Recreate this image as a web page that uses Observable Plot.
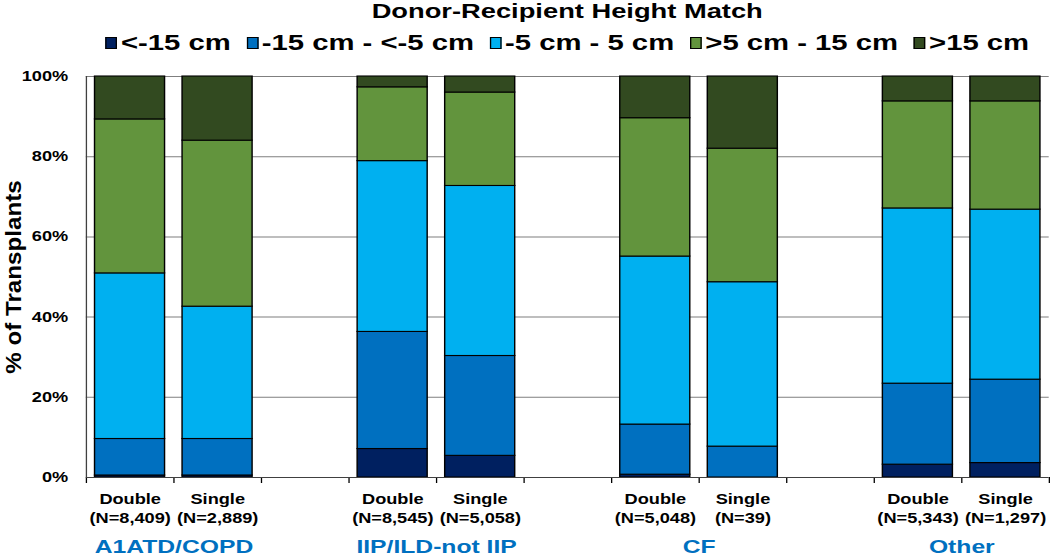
<!DOCTYPE html>
<html>
<head>
<meta charset="utf-8">
<script src="https://cdn.jsdelivr.net/npm/d3@7"></script>
<script src="https://cdn.jsdelivr.net/npm/@observablehq/plot@0.6"></script>
<style>
  html, body { margin: 0; padding: 0; background: #fff; overflow: hidden; }
  #wrap { position: relative; width: 808px; height: 556px; transform: scaleX(1.2995); transform-origin: 0 0;
          font-family: "Liberation Sans", Arial, sans-serif; font-weight: bold; color: #000; }
  #title { position: absolute; top: 0px; left: 66px; right: 1px; text-align: center; font-size: 21px; line-height: 21px; }
  #legend { position: absolute; top: 32px; left: 66px; right: 1px; display: flex; justify-content: center; gap: 12px;
            font-size: 22.5px; line-height: 22px; }
  .item { display: flex; align-items: center; white-space: nowrap; }
  .sw { width: 9px; height: 12px; border: 1px solid #000; box-sizing: border-box; margin-right: 3px; }
  #chart { position: absolute; top: 58px; left: 0; }
  #ylabel { position: absolute; left: 15px; top: 277px; white-space: nowrap;
            font-family: "Liberation Sans", Arial, sans-serif; font-weight: bold; font-size: 21.5px; line-height: 21.5px; color: #000;
            transform: translate(-50%, -50%) rotate(-90deg) scaleX(1.125); }
</style>
</head>
<body>
<div id="wrap">
  <div id="title"></div>
  <div id="legend"></div>
  <div id="chart"></div>
</div>
<div id="ylabel"></div>
<script>
const title = "Donor-Recipient Height Match";
const groups = ["A1ATD/COPD", "IIP/ILD-not IIP", "CF", "Other"];
const procedures = ["Double", "Single"];
const counts = ["8,409", "2,889", "8,545", "5,058", "5,048", "39", "5,343", "1,297"];
const categories = ["<-15 cm", "-15 cm - <-5 cm", "-5 cm - 5 cm", ">5 cm - 15 cm", ">15 cm"];
const colors = ["#002060", "#0070C0", "#00B0F0", "#62943D", "#324A20"];
// percent of transplants per bar (order: group x procedure)
const under15 =   [0.5, 0.5, 7.1, 5.4, 0.7, 0.0, 3.2, 3.6];
const from15to5 = [9.1, 9.1, 29.2, 24.9, 12.5, 7.7, 20.2, 20.8];
const within5 =   [41.3, 33.0, 42.6, 42.4, 41.9, 41.0, 43.7, 42.4];
const from5to15 = [38.4, 41.4, 18.4, 23.3, 34.5, 33.3, 26.7, 27.0];
const over15 =    [10.7, 16.0, 2.7, 4.0, 10.4, 18.0, 6.2, 6.2];
const yTicks = [0, 20, 40, 60, 80, 100];
const yLabel = "% of Transplants";

const series = [under15, from15to5, within5, from5to15, over15];

// one slot per bar, plus an empty slot between groups
const bars = [];
groups.forEach((g, gi) => procedures.forEach((p, pi) => {
  const b = gi * procedures.length + pi;
  bars.push({group: g, proc: p, n: counts[b], slot: gi * (procedures.length + 1) + pi, index: b});
}));
const nSlots = groups.length * (procedures.length + 1) - 1;

const stacked = [];
bars.forEach(bar => {
  let acc = 0;
  categories.forEach((c, ci) => {
    const v = series[ci][bar.index];
    stacked.push({cat: c, slot: bar.slot, y1: acc, y2: acc + v});
    acc += v;
  });
});

const groupLabels = groups.map((g, gi) => ({name: g, mid: gi * (procedures.length + 1) + procedures.length / 2}));
const barLabels = bars.map(b => ({mid: b.slot + 0.5, label: `${b.proc}\n(N=${b.n})`}));

document.getElementById("title").textContent = title;
document.getElementById("ylabel").textContent = yLabel;
const legend = document.getElementById("legend");
categories.forEach((c, i) => {
  const it = document.createElement("div");
  it.className = "item";
  const sw = document.createElement("div");
  sw.className = "sw";
  sw.style.background = colors[i];
  const t = document.createElement("span");
  t.textContent = c;
  it.appendChild(sw); it.appendChild(t);
  legend.appendChild(it);
});

const chart = Plot.plot({
  width: 808,
  height: 498,
  marginLeft: 66,
  marginRight: 1,
  marginTop: 18,
  marginBottom: 79,
  style: {fontFamily: "'Liberation Sans', Arial, sans-serif", fontWeight: "bold", fontSize: "14px", color: "#000", background: "#fff", overflow: "visible"},
  x: {domain: [0, nSlots], ticks: d3.range(nSlots + 1), tickFormat: () => "", tickSize: 6, label: null},
  y: {domain: [0, 100], ticks: yTicks, tickFormat: d => d + "%", tickSize: 0, tickPadding: 14, label: null},
  color: {domain: categories, range: colors},
  marks: [
    Plot.ruleY(yTicks.filter(t => t > 0), {stroke: "#7f7f7f", strokeWidth: 1}),
    Plot.rectY(stacked, {x1: d => d.slot + 0.1, x2: d => d.slot + 0.9, y1: "y1", y2: "y2", fill: "cat", stroke: "#000", strokeWidth: 1.1}),
    Plot.ruleX([0], {stroke: "#404040"}),
    Plot.ruleY([0], {stroke: "#404040"}),
    Plot.text(barLabels, {x: "mid", text: "label", frameAnchor: "bottom", lineAnchor: "top", dy: 12, lineHeight: 1.42, fontSize: 14, fontWeight: "bold", fill: "#000"}),
    Plot.text(groupLabels, {x: "mid", text: "name", frameAnchor: "bottom", lineAnchor: "top", dy: 62, fontSize: 19, fontWeight: "bold", fill: "#0070C0"})
  ]
});
document.getElementById("chart").appendChild(chart);
</script>
</body>
</html>
